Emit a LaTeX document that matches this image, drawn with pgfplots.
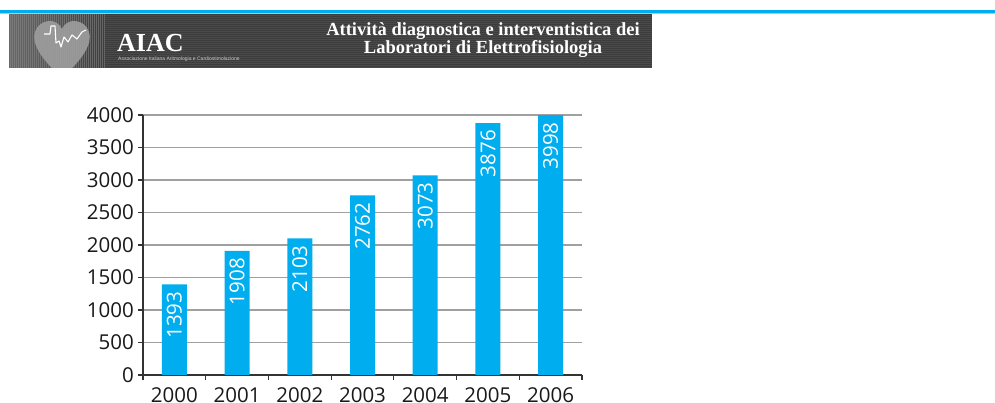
\documentclass[border=0pt]{standalone}
\usepackage{fontspec}
\setmainfont{Open Sans}
\newfontfamily\serifb{Liberation Serif}
\newfontfamily\lsans{Liberation Sans}
\usepackage{pgfplots}
\pgfplotsset{compat=1.18}
\definecolor{barblue}{HTML}{00AEEF}
\definecolor{lineblue}{HTML}{00AEEF}
\definecolor{lightblue}{HTML}{8FD8F5}
\definecolor{bannerbg}{HTML}{3C3C3C}
\definecolor{stripe}{HTML}{4A4A4A}
\definecolor{gridgray}{HTML}{A0A0A0}
\definecolor{axisdark}{HTML}{333333}
\begin{document}
\begin{tikzpicture}[x=1pt,y=1pt]
\useasboundingbox (0,0) rectangle (995,403);
\fill[white] (0,0) rectangle (995,403);
% top blue line
\fill[lineblue] (0,389.5) rectangle (995,392.5);
\fill[lightblue] (0,388.5) rectangle (995,389.5);
% banner
\begin{scope}
\clip (9,335) rectangle (652,388.5);
\fill[bannerbg] (9,335) rectangle (652,389);
\foreach \y in {335.5,337.5,...,389} \draw[stripe, line width=0.7pt] (9,\y) -- (652,\y);
\shade[left color=black!55, right color=bannerbg, opacity=0.8] (9,335) rectangle (105,389);
\foreach \x in {10,12,...,104} \draw[black!45, line width=0.4pt, opacity=0.5] (\x,335) -- (\x,389);
% heart
\fill[black!38, opacity=0.9] (62,326) .. controls (42,342) and (31,360) .. (35,371)
  .. controls (39,384) and (57,386) .. (62,374)
  .. controls (67,386) and (85,384) .. (89,371)
  .. controls (93,360) and (82,342) .. (62,326) -- cycle;
\draw[white, line width=1.1pt, line join=round] (44,369) -- (50,369) -- (51,377) -- (55,377) -- (56,360) -- (59,362) -- (61,356) -- (64,366) -- (68,361) -- (72,368) -- (77,364) -- (82,371) -- (86,373);
\end{scope}
% AIAC
\node[anchor=base west, inner sep=0pt, text=white, font=\serifb\bfseries\fontsize{26}{26}\selectfont] at (117,351.5) {AIAC};
\node[anchor=base west, inner sep=0pt, text=black!20, font=\lsans\fontsize{5}{5}\selectfont] at (118,342) {Associazione Italiana Aritmologia e Cardiostimolazione};
% title
\node[anchor=base, inner sep=0pt, text=white, font=\serifb\bfseries\fontsize{18.5}{19}\selectfont] at (483,367) {Attività diagnostica e interventistica dei};
\node[anchor=base, inner sep=0pt, text=white, font=\serifb\bfseries\fontsize{18.5}{19}\selectfont] at (483,349.5) {Laboratori di Elettrofisiologia};
% chart
\begin{axis}[
  at={(143pt,28pt)}, anchor=south west,
  scale only axis, width=439pt, height=260pt,
  xmin=-0.5, xmax=6.5, ymin=0, ymax=4000,
  ybar, bar width=25pt,
  /pgf/number format/assume math mode=true,
  /pgf/number format/1000 sep={},
  scaled y ticks=false,
  axis x line*=bottom, axis y line*=left,
  axis line style={-, axisdark, line width=1.4pt},
  xtick={0,...,6}, xticklabels={2000,2001,2002,2003,2004,2005,2006},
  minor xtick={-0.5,0.5,...,6.5},
  ytick={0,500,...,4000},
  tick align=outside,
  major tick length=5pt, minor tick length=5pt,
  x tick style={draw=none},
  minor x tick style={draw=axisdark, line width=1.2pt},
  y tick style={draw=axisdark, line width=1.2pt},
  ymajorgrids, grid style={gridgray, line width=1.2pt},
  every tick label/.append style={font=\fontsize{20.5}{20.5}\selectfont, text=black!90, inner sep=0pt},
  yticklabel style={xshift=-4pt},
  xticklabel style={yshift=-7pt},
  nodes near coords,
  nodes near coords style={rotate=90, anchor=east, text=white, font=\fontsize{20.5}{20.5}\selectfont, inner xsep=7pt, inner ysep=0pt},
]
\addplot[fill=barblue, draw=none] coordinates {(0,1393) (1,1908) (2,2103) (3,2762) (4,3073) (5,3876) (6,3998)};
\end{axis}
\end{tikzpicture}
\end{document}
